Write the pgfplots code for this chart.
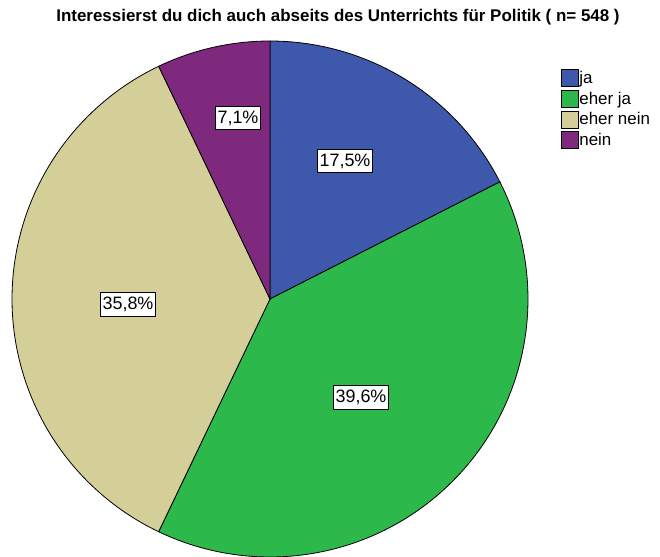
\documentclass[border=0pt]{standalone}
\usepackage{pgfplots}
\pgfplotsset{compat=1.18}
\usepackage{fontspec}
\setmainfont{Liberation Sans}
\definecolor{cja}{HTML}{3E58AC}
\definecolor{cehja}{HTML}{2DB84B}
\definecolor{cehnein}{HTML}{D4CE99}
\definecolor{cnein}{HTML}{7E297E}
% shares in percent
\def\pja{17.5}
\def\pehja{39.6}
\def\pehnein{35.8}
\def\pnein{7.1}
\pgfmathsetmacro{\aA}{90}
\pgfmathsetmacro{\aB}{\aA-3.6*\pja}
\pgfmathsetmacro{\aC}{\aB-3.6*\pehja}
\pgfmathsetmacro{\aD}{\aC-3.6*\pehnein}
\pgfmathsetmacro{\aE}{\aD-3.6*\pnein}
\begin{document}
\begin{tikzpicture}
\useasboundingbox (0,0) rectangle (660bp,557bp);
\clip (0,0) rectangle (660bp,557bp);
\begin{axis}[
  at={(0,0)}, anchor=south west,
  scale only axis, width=660bp, height=557bp,
  xmin=0, xmax=660, ymin=0, ymax=557, y dir=reverse,
  hide axis, clip=true,
  legend style={at={(axis cs:561,69)}, anchor=north west, draw=none, fill=none,
    font=\fontsize{17}{19}\selectfont, row sep=3bp, inner sep=0pt,
    /tikz/every even column/.append style={column sep=1pt},
    nodes={inner sep=0.5bp}},
  legend cell align=left,
  legend image code/.code={\draw[#1, draw=black, line width=0.7bp] (0bp,-8.5bp) rectangle (17bp,8.5bp);},
]
\addplot[fill=cja, draw=black, line width=0.8bp, domain=\aB:\aA, samples=60]
  ({270+258*cos(x)}, {299-258*sin(x)}) -- (axis cs:270,299) -- cycle;
\addlegendentry{ja}
\addplot[fill=cehja, draw=black, line width=0.8bp, domain=\aC:\aB, samples=100]
  ({270+258*cos(x)}, {299-258*sin(x)}) -- (axis cs:270,299) -- cycle;
\addlegendentry{eher ja}
\addplot[fill=cehnein, draw=black, line width=0.8bp, domain=\aD:\aC, samples=100]
  ({270+258*cos(x)}, {299-258*sin(x)}) -- (axis cs:270,299) -- cycle;
\addlegendentry{eher nein}
\addplot[fill=cnein, draw=black, line width=0.8bp, domain=\aE:\aD, samples=40]
  ({270+258*cos(x)}, {299-258*sin(x)}) -- (axis cs:270,299) -- cycle;
\addlegendentry{nein}
\tikzset{lab/.style={draw=black, fill=white, line width=0.8bp, inner xsep=2bp, inner ysep=4.5bp, font=\fontsize{18}{20}\selectfont}}
\node[lab] at (axis cs:345,161) {17,5\%};
\node[lab] at (axis cs:361,397) {39,6\%};
\node[lab] at (axis cs:128,304) {35,8\%};
\node[lab] at (axis cs:238,118) {7,1\%};
\node[font=\bfseries\fontsize{17}{20}\selectfont] at (axis cs:338,17) {Interessierst du dich auch abseits des Unterrichts für Politik ( n= 548 )};
\end{axis}
\end{tikzpicture}
\end{document}
